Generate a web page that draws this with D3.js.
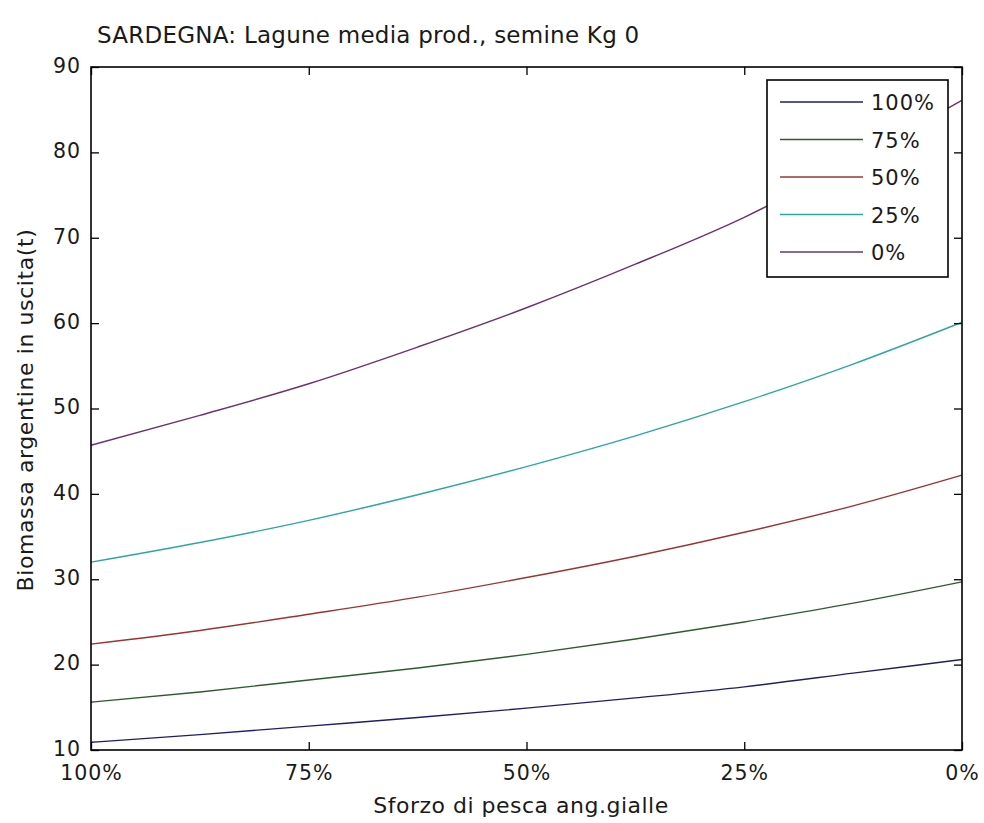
<!DOCTYPE html>
<html>
<head>
<meta charset="utf-8">
<script src="https://cdn.jsdelivr.net/npm/d3@7"></script>
<style>
  html, body { margin: 0; padding: 0; background: #fff; }
  svg { display: block; }
  text { font-family: "DejaVu Sans", Verdana, sans-serif; fill: #1a1a1a; }
</style>
</head>
<body>
<svg id="chart" width="984" height="823"></svg>
<script>
// Fishing effort (%), from full effort down to none
const effort = [100, 87.5, 75, 62.5, 50, 37.5, 25, 12.5, 0];
const effortTicks = [100, 75, 50, 25, 0];
const yTicks = [10, 20, 30, 40, 50, 60, 70, 80, 90];

// Series names (legend) and biomass output (t) per effort level
const seriesNames = ["100%", "75%", "50%", "25%", "0%"];
const s100 = [10.9, 11.8, 12.8, 13.8, 14.9, 16.1, 17.4, 19.0, 20.6];
const s75  = [15.6, 16.8, 18.2, 19.6, 21.2, 23.0, 25.0, 27.2, 29.7];
const s50  = [22.4, 24.0, 25.9, 27.9, 30.2, 32.7, 35.5, 38.6, 42.2];
const s25  = [32.0, 34.3, 36.9, 39.9, 43.2, 46.8, 50.8, 55.2, 60.1];
const s0   = [45.7, 49.2, 52.9, 57.2, 61.8, 66.9, 72.4, 79.0, 86.1];
const seriesColors = ["#1e1e6a", "#2e5c2e", "#9a3434", "#2ea6a6", "#6e326e"];

const series = [s100, s75, s50, s25, s0].map((vals, i) => ({
  name: seriesNames[i],
  color: seriesColors[i],
  values: vals.map((v, j) => ({ x: effort[j], y: v }))
}));

const svg = d3.select("#chart");
const margin = { left: 91, right: 22, top: 67, bottom: 73 };
const W = 984, H = 823;
const x0 = margin.left, x1 = W - margin.right;
const y0 = H - margin.bottom, y1 = margin.top;
const FONT = '"DejaVu Sans", Verdana, sans-serif';

const x = d3.scaleLinear().domain([100, 0]).range([x0, x1]);
const y = d3.scaleLinear().domain([10, 90]).range([y0, y1]);

// Curves
const line = d3.line().x(d => x(d.x)).y(d => y(d.y)).curve(d3.curveMonotoneX);
svg.append("g").selectAll("path").data(series).join("path")
  .attr("d", d => line(d.values))
  .attr("fill", "none")
  .attr("stroke", d => d.color)
  .attr("stroke-width", 1.4);

// Axes with inward ticks on all four sides
const tickLen = 8;
const fmtPct = d => d + "%";
const axisStyle = g => {
  g.selectAll(".domain").remove();
  g.selectAll("line").attr("stroke", "#000").attr("stroke-width", 1.3);
  g.selectAll("text").attr("font-size", 20.5).attr("fill", "#1a1a1a")
    .attr("letter-spacing", 1).style("font-family", FONT);
};

svg.append("g").attr("transform", `translate(0,${y0})`)
  .call(d3.axisBottom(x).tickValues(effortTicks).tickFormat(fmtPct)
    .tickSizeInner(-tickLen).tickSizeOuter(0).tickPadding(15))
  .call(axisStyle);

svg.append("g").attr("transform", `translate(0,${y1})`)
  .call(d3.axisTop(x).tickValues(effortTicks).tickFormat("")
    .tickSizeInner(-tickLen).tickSizeOuter(0))
  .call(axisStyle);

svg.append("g").attr("transform", `translate(${x0},0)`)
  .call(d3.axisLeft(y).tickValues(yTicks).tickFormat(d3.format("d"))
    .tickSizeInner(-tickLen).tickSizeOuter(0).tickPadding(10))
  .call(axisStyle)
  .selectAll("text").attr("dy", "0.26em");

svg.append("g").attr("transform", `translate(${x1},0)`)
  .call(d3.axisRight(y).tickValues(yTicks).tickFormat("")
    .tickSizeInner(-tickLen).tickSizeOuter(0))
  .call(axisStyle);

// Plot frame
svg.append("rect")
  .attr("x", x0).attr("y", y1)
  .attr("width", x1 - x0).attr("height", y0 - y1)
  .attr("fill", "none").attr("stroke", "#000").attr("stroke-width", 1.6);

// Title and axis labels
svg.append("text")
  .attr("x", 97).attr("y", 43)
  .attr("font-size", 23).attr("letter-spacing", 0.25)
  .text("SARDEGNA: Lagune media prod., semine Kg 0");

svg.append("text")
  .attr("x", 521).attr("y", 813)
  .attr("text-anchor", "middle")
  .attr("font-size", 22).attr("letter-spacing", 0.5)
  .text("Sforzo di pesca ang.gialle");

svg.append("text")
  .attr("transform", `translate(33,410) rotate(-90)`)
  .attr("text-anchor", "middle")
  .attr("font-size", 22).attr("letter-spacing", 0.6)
  .text("Biomassa argentine in uscita(t)");

// Legend
const lgX = 767, lgY = 80, lgW = 181, lgH = 197, rowH = 37.5;
const legend = svg.append("g");
legend.append("rect")
  .attr("x", lgX).attr("y", lgY).attr("width", lgW).attr("height", lgH)
  .attr("fill", "#fff").attr("stroke", "#000").attr("stroke-width", 1.6);
const rows = legend.selectAll("g.row").data(series).join("g")
  .attr("class", "row")
  .attr("transform", (d, i) => `translate(0,${lgY + 22 + i * rowH})`);
rows.append("line")
  .attr("x1", lgX + 13).attr("x2", lgX + 96)
  .attr("stroke", d => d.color).attr("stroke-width", 1.4);
rows.append("text")
  .attr("x", lgX + 104).attr("y", 8)
  .attr("font-size", 21).attr("letter-spacing", 1)
  .text(d => d.name);
</script>
</body>
</html>
